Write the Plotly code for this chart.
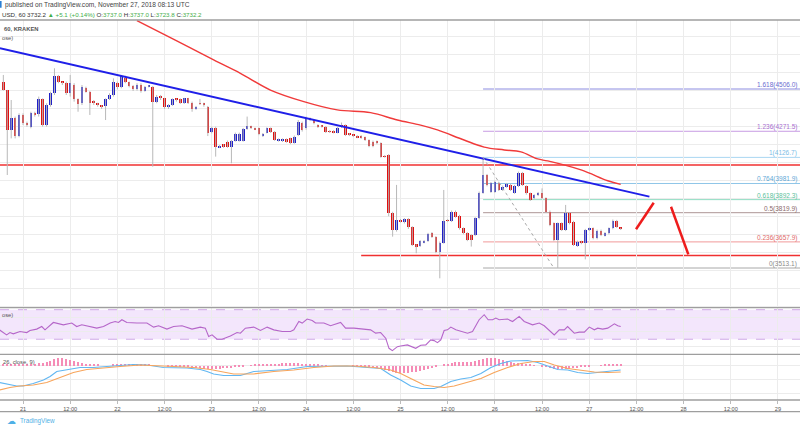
import plotly.graph_objects as go
import pandas as pd

# ---------------- data ----------------
candle_start = "2018-11-20 19:00"

opens = [
    4547, 4501, 4279, 4343, 4245, 4362, 4316, 4297, 4371, 4366,
    4451, 4306, 4417, 4482, 4580, 4547, 4541, 4486, 4528, 4451,
    4427, 4510, 4491, 4436, 4427, 4414, 4412, 4449, 4473, 4541,
    4515, 4565, 4543, 4523, 4504, 4528, 4495, 4521, 4519, 4436,
    4464, 4454, 4408, 4417, 4451, 4451, 4430, 4454, 4430, 4395,
    4427, 4427, 4408, 4269, 4288, 4183, 4196, 4214, 4186, 4218,
    4220, 4220, 4284, 4297, 4288, 4288, 4249, 4264,
    4288, 4269, 4220, 4218, 4227, 4232, 4208, 4251, 4319, 4288,
    4343, 4334, 4306, 4301, 4297, 4273, 4273, 4264, 4306, 4306,
    4257, 4251, 4245, 4245, 4238, 4223, 4214, 4214, 4205, 4134,
    4140, 3816, 3724, 3774, 3766, 3783, 3739, 3641, 3637, 3656,
    3663, 3706, 3687, 3604, 3654, 3779, 3774, 3826, 3802, 3733,
    3706, 3696, 3696, 3789, 3931, 4029, 3937, 3937, 3987, 3946,
    3964, 3974, 3931, 3968, 4042, 3968, 3927, 3900, 3918,
    3927, 3900, 3826, 3761, 3669, 3761, 3724, 3816, 3770, 3635,
    3659, 3650, 3724, 3733, 3678, 3720, 3693, 3706, 3733, 3776,
    3737.0,
]
highs = [
    4584, 4501, 4445, 4353, 4371, 4371, 4325, 4380, 4380, 4464,
    4454, 4427, 4491, 4621, 4584, 4547, 4547, 4584, 4538, 4454,
    4528, 4519, 4495, 4445, 4430, 4417, 4454, 4482, 4565, 4547,
    4584, 4580, 4547, 4528, 4538, 4538, 4523, 4528, 4523, 4473,
    4473, 4457, 4423, 4454, 4454, 4454, 4457, 4457, 4436, 4412,
    4451, 4430, 4412, 4297, 4297, 4196, 4200, 4220, 4223, 4264,
    4264, 4290, 4353, 4303, 4292, 4292, 4262, 4293,
    4293, 4273, 4232, 4232, 4232, 4236, 4248, 4334, 4325, 4353,
    4348, 4338, 4310, 4306, 4301, 4278, 4278, 4295, 4320, 4310,
    4262, 4255, 4250, 4250, 4242, 4227, 4220, 4220, 4210, 4140,
    4145, 3825, 3974, 3785, 3790, 3790, 3745, 3645, 3668, 3668,
    3708, 3712, 3690, 3660, 3946, 3785, 3832, 3832, 3808, 3738,
    3712, 3700, 3795, 3937, 4126.7, 4035, 3990, 3998, 3992, 3970,
    3985, 3980, 3974, 4048, 4046, 3972, 3932, 3922, 3935,
    3955, 3905, 3832, 3766, 3766, 3766, 3863, 3822, 3775, 3665,
    3665, 3730, 3738, 3738, 3726, 3726, 3712, 3738, 3782, 3780,
    3737.0,
]
lows = [
    4497, 4029, 4232, 4232, 4238, 4306, 4297, 4288, 4353, 4353,
    4297, 4297, 4408, 4473, 4538, 4528, 4473, 4464, 4436, 4380,
    4417, 4486, 4362, 4417, 4408, 4395, 4334, 4445, 4464, 4504,
    4510, 4538, 4515, 4495, 4497, 4486, 4491, 4515, 4075, 4427,
    4445, 4395, 4395, 4412, 4436, 4423, 4423, 4423, 4380, 4390,
    4417, 4408, 4245, 4260, 4131, 4178, 4180, 4180, 4094, 4214,
    4214, 4214, 4280, 4284, 4278, 4250, 4240, 4260,
    4262, 4218, 4214, 4212, 4208, 4200, 4203, 4245, 4270, 4280,
    4328, 4310, 4290, 4292, 4262, 4262, 4260, 4260, 4290, 4245,
    4245, 4240, 4233, 4230, 4218, 4183, 4183, 4200, 4125, 4125,
    3800, 3687, 3715, 3765, 3760, 3730, 3635, 3595, 3630, 3650,
    3658, 3680, 3595, 3456, 3648, 3768, 3768, 3792, 3726, 3700,
    3662, 3632, 3690, 3783, 3925, 3966, 3930, 3930, 3940, 3940,
    3958, 3940, 3925, 3962, 3968, 3920, 3885, 3895, 3912,
    3895, 3820, 3745, 3662, 3513.1, 3718, 3718, 3755, 3635, 3630,
    3645, 3561, 3718, 3672, 3672, 3690, 3688, 3700, 3728, 3736,
    3723.8,
]
closes = [
    4501, 4279, 4343, 4245, 4362, 4316, 4306, 4371, 4366, 4451,
    4306, 4417, 4482, 4580, 4547, 4538, 4486, 4538, 4451, 4423,
    4515, 4491, 4430, 4427, 4417, 4408, 4449, 4473, 4547, 4515,
    4580, 4543, 4523, 4504, 4528, 4495, 4519, 4523, 4436, 4464,
    4454, 4408, 4417, 4449, 4445, 4430, 4454, 4430, 4395, 4408,
    4423, 4417, 4260, 4288, 4186, 4190, 4186, 4186, 4218, 4257,
    4257, 4284, 4303, 4288, 4284, 4257, 4257, 4288,
    4269, 4223, 4227, 4227, 4214, 4208, 4242, 4325, 4279, 4343,
    4334, 4316, 4297, 4297, 4269, 4269, 4266, 4288, 4297, 4251,
    4251, 4245, 4238, 4236, 4223, 4190, 4190, 4205, 4131, 4131,
    3816, 3724, 3779, 3770, 3783, 3739, 3641, 3632, 3663, 3663,
    3702, 3687, 3604, 3654, 3774, 3774, 3826, 3798, 3733, 3706,
    3669, 3669, 3789, 3931, 4029, 3974, 3983, 3992, 3946, 3964,
    3979, 3946, 3968, 4042, 3974, 3927, 3890, 3918, 3931,
    3900, 3826, 3752, 3669, 3761, 3724, 3816, 3761, 3641, 3659,
    3650, 3724, 3733, 3678, 3720, 3696, 3706, 3733, 3776, 3742,
    3732.2,
]

# MACD histogram (one bar per candle)
macd_hist = [
    2, 2, 2, 2, 2, 2, 4, 4,
    4, 6, 6, 8, 10, 14, 16, 16, 14, 12, 10,
    8, 6, 4, 4, 2, 2,
    0, 0, 0, 2, 2, 4, 4, 4, 4,
    4, 4, 2, 2, 0, 0, 0,
    0, -1, -1, -2, -2, -2, -3, -4,
    -4, -4, -6, -6, -6, -6, -6, -5, -4, -4, -3, -2,
    -1, 0, 1, 2, 2, 3, 3, 4,
    4, 4, 5, 5, 5, 5, 5, 4, 4, 3, 2, 2,
    1, 1, 0, 0, 0, 0, 0, 0, -1, -1, -2, -2,
    -3, -4, -5, -6, -8, -10, -12, -14,
    -15, -15, -14, -13, -12, -10, -8, -6, -4, -2, 0, 2,
    4, 6, 7, 8, 8, 8, 8, 9, 11, 14, 15, 15, 15, 14, 12, 10, 8, 6, 6, 5, 4, 2, 1, 0,
    -1, -2, -4, -6, -7, -7, -6, -6, -5, -4, -3, -2, -1, 0, 0, 1, 2, 2, 3, 3, 4,
]

# MACD line and signal line (read points)
macd_t = ["2018-11-20 18:00", "2018-11-20 21:00", "2018-11-20 22:24", "2018-11-21 00:00", "2018-11-21 02:36",
          "2018-11-21 05:12", "2018-11-21 06:53", "2018-11-21 08:35", "2018-11-21 11:08", "2018-11-21 14:31",
          "2018-11-21 17:55", "2018-11-21 21:19", "2018-11-22 00:42", "2018-11-22 04:06", "2018-11-22 07:31",
          "2018-11-22 11:45", "2018-11-22 17:42", "2018-11-22 21:06", "2018-11-22 22:48", "2018-11-23 00:29",
          "2018-11-23 03:02", "2018-11-23 07:17", "2018-11-23 10:41", "2018-11-23 14:05", "2018-11-23 19:11",
          "2018-11-24 00:17", "2018-11-24 05:23", "2018-11-24 10:29", "2018-11-24 15:35", "2018-11-24 19:00",
          "2018-11-24 21:30", "2018-11-25 00:03", "2018-11-25 02:36", "2018-11-25 05:09", "2018-11-25 08:33",
          "2018-11-25 10:15", "2018-11-25 12:48", "2018-11-25 15:21", "2018-11-25 17:54", "2018-11-25 20:27",
          "2018-11-25 23:00", "2018-11-26 01:32", "2018-11-26 04:05", "2018-11-26 06:38", "2018-11-26 08:20",
          "2018-11-26 10:53", "2018-11-26 13:26", "2018-11-26 15:59", "2018-11-26 18:32", "2018-11-26 21:05",
          "2018-11-26 23:38", "2018-11-27 02:10", "2018-11-27 04:43", "2018-11-27 08:00"]
macd_v = [-33, -38, -40, -40, -35, -28, -21, -11, -7, -3,
          -3, -1, 2, 3, 2, -3, -4, -7, -11, -16,
          -19, -19, -11, -9, -7, -1, 0, 0, -3, -5,
          -18, -28, -40, -45, -45, -41, -31, -26, -23, -15,
          -3, 5, 10, 11, 11, 7, 0, -7, -8, -13,
          -15, -13, -11, -8]
signal_t = ["2018-11-20 18:00", "2018-11-20 20:41", "2018-11-20 23:14", "2018-11-21 02:37", "2018-11-21 06:02",
            "2018-11-21 09:26", "2018-11-21 12:49", "2018-11-21 16:13", "2018-11-21 19:37", "2018-11-22 00:42",
            "2018-11-22 05:48", "2018-11-22 10:03", "2018-11-22 14:17", "2018-11-22 19:23", "2018-11-22 23:38",
            "2018-11-23 05:34", "2018-11-23 10:41", "2018-11-23 15:47", "2018-11-23 20:52", "2018-11-24 01:58",
            "2018-11-24 07:04", "2018-11-24 12:10", "2018-11-24 17:15", "2018-11-24 21:30", "2018-11-25 00:03",
            "2018-11-25 02:36", "2018-11-25 05:59", "2018-11-25 08:33", "2018-11-25 11:06", "2018-11-25 13:39",
            "2018-11-25 17:03", "2018-11-25 20:27", "2018-11-25 23:50", "2018-11-26 03:14", "2018-11-26 06:38",
            "2018-11-26 10:01", "2018-11-26 12:34", "2018-11-26 15:07", "2018-11-26 18:32", "2018-11-26 21:55",
            "2018-11-27 01:19", "2018-11-27 04:43", "2018-11-27 08:00"]
signal_v = [-48, -43, -40, -38, -33, -23, -13, -7, -4, -1,
            2, 1, -1, -3, -7, -16, -16, -11, -8, -3,
            0, 0, -3, -8, -15, -25, -38, -41, -43, -40,
            -33, -25, -13, -3, 5, 9, 9, 2, -5, -9,
            -12, -13, -12]

# RSI (read points)
rsi_t = ["2018-11-20 18:00", "2018-11-20 19:25", "2018-11-20 19:50", "2018-11-20 20:41", "2018-11-20 21:32",
         "2018-11-20 23:14", "2018-11-21 00:57", "2018-11-21 01:47", "2018-11-21 03:29", "2018-11-21 04:46",
         "2018-11-21 05:36", "2018-11-21 07:43", "2018-11-21 10:16", "2018-11-21 12:24", "2018-11-21 13:40",
         "2018-11-21 14:57", "2018-11-21 16:38", "2018-11-21 18:46", "2018-11-21 20:28", "2018-11-21 22:10",
         "2018-11-21 23:26", "2018-11-22 00:17", "2018-11-22 01:09", "2018-11-22 02:25", "2018-11-22 04:58",
         "2018-11-22 07:31", "2018-11-22 09:13", "2018-11-22 10:29", "2018-11-22 12:36", "2018-11-22 14:18",
         "2018-11-22 16:26", "2018-11-22 18:59", "2018-11-22 21:06", "2018-11-22 22:22", "2018-11-22 23:13",
         "2018-11-23 00:05", "2018-11-23 01:21", "2018-11-23 02:37", "2018-11-23 04:44", "2018-11-23 06:26",
         "2018-11-23 07:17", "2018-11-23 08:33", "2018-11-23 10:41", "2018-11-23 12:23", "2018-11-23 14:05",
         "2018-11-23 15:47", "2018-11-23 17:55", "2018-11-23 20:02", "2018-11-23 20:53", "2018-11-23 22:09",
         "2018-11-23 23:00", "2018-11-24 00:16", "2018-11-24 01:33", "2018-11-24 02:24", "2018-11-24 04:31",
         "2018-11-24 06:13", "2018-11-24 08:46", "2018-11-24 10:02", "2018-11-24 12:09", "2018-11-24 14:42",
         "2018-11-24 16:24", "2018-11-24 17:41", "2018-11-24 18:57", "2018-11-24 20:14", "2018-11-24 21:05",
         "2018-11-24 21:56", "2018-11-24 23:13", "2018-11-25 00:03", "2018-11-25 01:45", "2018-11-25 03:52",
         "2018-11-25 05:09", "2018-11-25 06:26", "2018-11-25 07:42", "2018-11-25 08:33", "2018-11-25 09:24",
         "2018-11-25 10:15", "2018-11-25 11:06", "2018-11-25 11:57", "2018-11-25 12:48", "2018-11-25 14:04",
         "2018-11-25 15:46", "2018-11-25 17:03", "2018-11-25 18:19", "2018-11-25 20:00", "2018-11-25 21:17",
         "2018-11-25 22:18", "2018-11-25 23:25", "2018-11-26 00:15", "2018-11-26 01:06", "2018-11-26 03:14",
         "2018-11-26 04:30", "2018-11-26 06:11", "2018-11-26 07:28", "2018-11-26 09:35", "2018-11-26 11:17",
         "2018-11-26 12:33", "2018-11-26 15:06", "2018-11-26 16:23", "2018-11-26 17:39", "2018-11-26 18:30",
         "2018-11-26 20:12", "2018-11-26 21:28", "2018-11-26 22:45", "2018-11-27 00:01", "2018-11-27 01:18",
         "2018-11-27 02:09", "2018-11-27 03:25", "2018-11-27 04:42", "2018-11-27 06:24", "2018-11-27 07:15",
         "2018-11-27 08:00"]
rsi_v = [42.7, 38.2, 35.9, 39.0, 37.3, 40.4, 39.0, 41.8, 43.7, 47.2,
         42.7, 52.7, 49.5, 51.9, 47.2, 49.5, 47.2, 45.0, 47.2, 51.9,
         54.0, 52.7, 56.4, 52.7, 51.9, 51.9, 46.4, 48.2, 43.7, 47.2,
         48.2, 43.7, 46.4, 45.0, 33.6, 35.9, 30.0, 30.0, 34.5, 39.0,
         38.2, 45.0, 46.4, 41.8, 46.4, 42.7, 40.4, 40.4, 42.7, 54.0,
         51.9, 57.3, 55.4, 51.9, 51.9, 48.2, 52.7, 45.0, 45.0, 43.7,
         42.7, 38.2, 39.0, 31.4, 17.7, 14.5, 19.9, 20.9, 22.3, 17.7,
         21.8, 22.3, 29.1, 28.1, 25.4, 29.1, 41.8, 42.7, 46.4, 42.7,
         40.4, 38.2, 40.4, 56.4, 63.2, 56.4, 56.4, 58.7, 56.4, 57.3,
         54.0, 60.9, 54.0, 49.5, 51.9, 48.2, 35.9, 42.7, 42.7, 47.2,
         38.2, 39.6, 39.6, 46.4, 42.7, 45.0, 43.7, 45.0, 50.9, 48.2,
         47.2]

# Moving average (read points)
ma_t = ["2018-11-22 04:58", "2018-11-22 14:44", "2018-11-23 00:29", "2018-11-23 07:17", "2018-11-23 14:56",
        "2018-11-23 23:25", "2018-11-24 07:55", "2018-11-24 16:24", "2018-11-24 23:12", "2018-11-25 05:07",
        "2018-11-25 09:23", "2018-11-25 16:10", "2018-11-25 21:17", "2018-11-26 02:23", "2018-11-26 06:38",
        "2018-11-26 10:53", "2018-11-26 13:26", "2018-11-26 21:55", "2018-11-27 04:43", "2018-11-27 08:00"]
ma_v = [4885, 4777, 4667, 4593, 4500, 4436, 4390, 4375, 4334, 4306,
        4279, 4223, 4184, 4168, 4157, 4118, 4107, 4057, 3997, 3977]

# Drawn lines
trend_t = ["2018-11-20 18:08", "2018-11-27 15:18"]
trend_v = [4732, 3909]
resist_level = 4084
support_level = 3582
support_start = "2018-11-24 14:00"
arrow1_t = ["2018-11-27 11:54", "2018-11-27 16:24"]
arrow1_v = [3728, 3875]
arrow2_t = ["2018-11-27 20:48", "2018-11-28 01:12"]
arrow2_v = [3853, 3589]

fib_start = "2018-11-25 21:00"
fib_low_time = "2018-11-26 15:00"
fib_ratios = ["1.618", "1.236", "1", "0.764", "0.618", "0.5", "0.236", "0"]
fib_prices = [4506.0, 4271.5, 4126.7, 3981.9, 3892.3, 3819.9, 3657.9, 3513.1]
fib_line_colors = ["#8c8ce0", "#c79be3", "#a9d6f2", "#8fc6e8", "#8fdcc2", "#ad9696", "#f19a9a", "#a8a8a8"]
fib_text_colors = ["#6b6bd0", "#a76fd0", "#7bbde6", "#5fa8d6", "#5cbf9c", "#8a6a6a", "#e06a6a", "#8a8a8a"]

x_left = "2018-11-20 18:09"
x_right = "2018-11-29 05:36"
tick_times = ["2018-11-21 00:00", "2018-11-21 12:00", "2018-11-22 00:00", "2018-11-22 12:00",
              "2018-11-23 00:00", "2018-11-23 12:00", "2018-11-24 00:00", "2018-11-24 12:00",
              "2018-11-25 00:00", "2018-11-25 12:00", "2018-11-26 00:00", "2018-11-26 12:00",
              "2018-11-27 00:00", "2018-11-27 12:00", "2018-11-28 00:00", "2018-11-28 12:00",
              "2018-11-29 00:00"]
tick_labels = ["21", "12:00", "22", "12:00", "23", "12:00", "24", "12:00", "25", "12:00",
               "26", "12:00", "27", "12:00", "28", "12:00", "29"]

# ---------------- figure ----------------
times = pd.date_range(candle_start, periods=len(opens), freq="h")
FONT = "Arial, Liberation Sans, sans-serif"
GRID = "#ececec"
UP = "#2020c8"
DOWN = "#e01010"
HOUR_MS = 3600 * 1000

fig = go.Figure()

# wicks (high-low)
wx, wy = [], []
for t, h, l in zip(times, highs, lows):
    wx += [t, t, None]
    wy += [l, h, None]
fig.add_trace(go.Scatter(x=wx, y=wy, mode="lines", line=dict(color="#b8b8b8", width=1),
                         hoverinfo="skip", showlegend=False, xaxis="x", yaxis="y"))

# moving average
fig.add_trace(go.Scatter(x=ma_t, y=ma_v, mode="lines", line=dict(color="#f03a3a", width=1.4, shape="spline"),
                         showlegend=False, xaxis="x", yaxis="y"))

# candle bodies (open -> close)
body_len = [c - o for o, c in zip(opens, closes)]
body_col = [UP if c >= o else DOWN for o, c in zip(opens, closes)]
fig.add_trace(go.Bar(x=times, base=opens, y=body_len, width=0.66 * HOUR_MS,
                     marker=dict(color=body_col, line=dict(width=0)),
                     customdata=list(zip(opens, highs, lows, closes)),
                     hovertemplate="O %{customdata[0]} H %{customdata[1]} L %{customdata[2]} C %{customdata[3]}<extra></extra>",
                     showlegend=False, xaxis="x", yaxis="y"))

# trendline
fig.add_trace(go.Scatter(x=trend_t, y=trend_v, mode="lines", line=dict(color="#1f1fe8", width=2),
                         showlegend=False, xaxis="x", yaxis="y"))
# arrows
fig.add_trace(go.Scatter(x=arrow1_t, y=arrow1_v, mode="lines", line=dict(color="#ee1c1c", width=2.5),
                         showlegend=False, xaxis="x", yaxis="y"))
fig.add_trace(go.Scatter(x=arrow2_t, y=arrow2_v, mode="lines", line=dict(color="#ee1c1c", width=2.5),
                         showlegend=False, xaxis="x", yaxis="y"))

# RSI
fig.add_trace(go.Scatter(x=rsi_t, y=rsi_v, mode="lines", line=dict(color="#b566c9", width=1.1),
                         showlegend=False, xaxis="x2", yaxis="y2"))

# MACD
fig.add_trace(go.Bar(x=times, y=macd_hist, marker=dict(color="#f58cb6", line=dict(width=0)),
                     width=0.3 * HOUR_MS, showlegend=False, xaxis="x3", yaxis="y3"))
fig.add_trace(go.Scatter(x=macd_t, y=macd_v, mode="lines", line=dict(color="#62b7f2", width=1.2),
                         showlegend=False, xaxis="x3", yaxis="y3"))
fig.add_trace(go.Scatter(x=signal_t, y=signal_v, mode="lines", line=dict(color="#f7a55c", width=1.2),
                         showlegend=False, xaxis="x3", yaxis="y3"))

shapes = []
shapes.append(dict(type="line", xref="x", yref="y", x0=x_left, x1=x_right, y0=resist_level, y1=resist_level,
                   line=dict(color="#f03030", width=1.5), layer="below"))
shapes.append(dict(type="line", xref="x", yref="y", x0=support_start, x1=x_right, y0=support_level,
                   y1=support_level, line=dict(color="#f03030", width=1.5), layer="below"))
for p, c in zip(fib_prices, fib_line_colors):
    shapes.append(dict(type="line", xref="x", yref="y", x0=fib_start, x1=x_right, y0=p, y1=p,
                       line=dict(color=c, width=1), layer="below"))
shapes.append(dict(type="line", xref="x", yref="y", x0=fib_start, x1=fib_low_time,
                   y0=fib_prices[2], y1=fib_prices[-1], line=dict(color="#a8a8a8", width=1, dash="dot")))
shapes.append(dict(type="rect", xref="paper", yref="y2", x0=0, x1=1, y0=30, y1=70,
                   fillcolor="#f3e6fc", line=dict(width=0), layer="below"))
for lv in (30, 70):
    shapes.append(dict(type="line", xref="paper", yref="y2", x0=0, x1=1, y0=lv, y1=lv,
                       line=dict(color="#cfa8e6", width=1, dash="dash"), layer="below"))
for py in (1.0, 0.2429, 0.1203, 0.0, -0.0308):
    shapes.append(dict(type="line", xref="paper", yref="paper", x0=0, x1=1, y0=py, y1=py,
                       line=dict(color="#9e9e9e", width=1.3)))
shapes.append(dict(type="rect", xref="paper", yref="paper", x0=0, x1=0.002, y0=1.032, y1=1.050,
                   fillcolor="#2b7fd4", line=dict(width=0)))

annotations = []
for r, p, c in zip(fib_ratios, fib_prices, fib_text_colors):
    annotations.append(dict(xref="paper", yref="y", x=0.999, y=p, xanchor="right", yanchor="bottom",
                            align="right", text=f"{r}({p:.1f})", showarrow=False, yshift=-2,
                            font=dict(family=FONT, size=6.5, color=c)))

G = "#3fae49"
D = "#333333"
annotations += [
    dict(xref="paper", yref="paper", x=0.004, y=1.0382, xanchor="left", yanchor="middle", align="left",
         showarrow=False, text="published on TradingView.com, November 27, 2018 08:13 UTC",
         font=dict(family=FONT, size=6.6, color="#444444")),
    dict(xref="paper", yref="paper", x=0.0, y=1.0145, xanchor="left", yanchor="middle", align="left",
         showarrow=False,
         text=(f"<span style='color:{D}'>USD, 60 3732.2 </span><span style='color:{G}'>▲ +5.1 (+0.14%)</span>"
               f"<span style='color:{D}'> O:</span><span style='color:{G}'>3737.0</span>"
               f"<span style='color:{D}'> H:</span><span style='color:{G}'>3737.0</span>"
               f"<span style='color:{D}'> L:</span><span style='color:{G}'>3723.8</span>"
               f"<span style='color:{D}'> C:</span><span style='color:{G}'>3732.2</span>"),
         font=dict(family=FONT, size=6.2, color=D)),
    dict(xref="paper", yref="paper", x=0.003, y=0.9771, xanchor="left", yanchor="middle", align="left",
         showarrow=False, text="<b>60, KRAKEN</b>", font=dict(family=FONT, size=5.8, color="#555555")),
    dict(xref="paper", yref="paper", x=0.0, y=0.9539, xanchor="left", yanchor="middle", align="left",
         showarrow=False, text="ose)", font=dict(family=FONT, size=5.8, color="#555555")),
    dict(xref="paper", yref="paper", x=0.0, y=0.2237, xanchor="left", yanchor="middle", align="left",
         showarrow=False, text="ose)", font=dict(family=FONT, size=5.8, color="#555555")),
    dict(xref="paper", yref="paper", x=0.001, y=0.1000, xanchor="left", yanchor="middle", align="left",
         showarrow=False, text="26, close, 9)", font=dict(family=FONT, size=5.8, color="#555555")),
    dict(xref="paper", yref="paper", x=0.006, y=-0.0561, xanchor="left", yanchor="middle", align="left",
         showarrow=False, text="☁", font=dict(family="DejaVu Sans", size=9, color="#4fb0e6")),
    dict(xref="paper", yref="paper", x=0.0225, y=-0.0561, xanchor="left", yanchor="middle", align="left",
         showarrow=False, text="TradingView", font=dict(family=FONT, size=6.3, color="#4fb0e6")),
]

xcommon = dict(range=[x_left, x_right], showgrid=True, gridcolor=GRID, gridwidth=1,
               tickvals=tick_times, zeroline=False, showline=False, type="date")

fig.update_layout(
    width=800, height=430,
    margin=dict(l=0, r=0, t=20, b=30),
    paper_bgcolor="white", plot_bgcolor="white",
    showlegend=False, bargap=0, barmode="overlay",
    xaxis=dict(**xcommon, domain=[0, 1], anchor="y", showticklabels=False),
    xaxis2=dict(**xcommon, domain=[0, 1], anchor="y2", matches="x", showticklabels=False),
    xaxis3=dict(**xcommon, domain=[0, 1], anchor="y3", matches="x", showticklabels=True,
                ticktext=tick_labels, ticks="outside", ticklen=3, tickcolor="#bbbbbb",
                tickfont=dict(family=FONT, size=5.6, color="#555555")),
    yaxis=dict(domain=[0.2429, 1.0], range=[3292.9, 4888.8], showticklabels=False, showgrid=True,
               gridcolor=GRID, tick0=0, dtick=100, zeroline=False),
    yaxis2=dict(domain=[0.1203, 0.2429], range=[9.6, 72.7], showticklabels=False, showgrid=True,
                gridcolor=GRID, tickvals=[20, 40, 60], zeroline=False),
    yaxis3=dict(domain=[0.0, 0.1203], range=[-68, 23.4], showticklabels=False, showgrid=True,
                gridcolor=GRID, tickvals=[0, -28, -56], zeroline=False),
    shapes=shapes,
    annotations=annotations,
)

fig.write_html("out.html", config={"displayModeBar": False},
               post_script="document.body.style.margin='0';document.body.style.overflow='hidden';")
